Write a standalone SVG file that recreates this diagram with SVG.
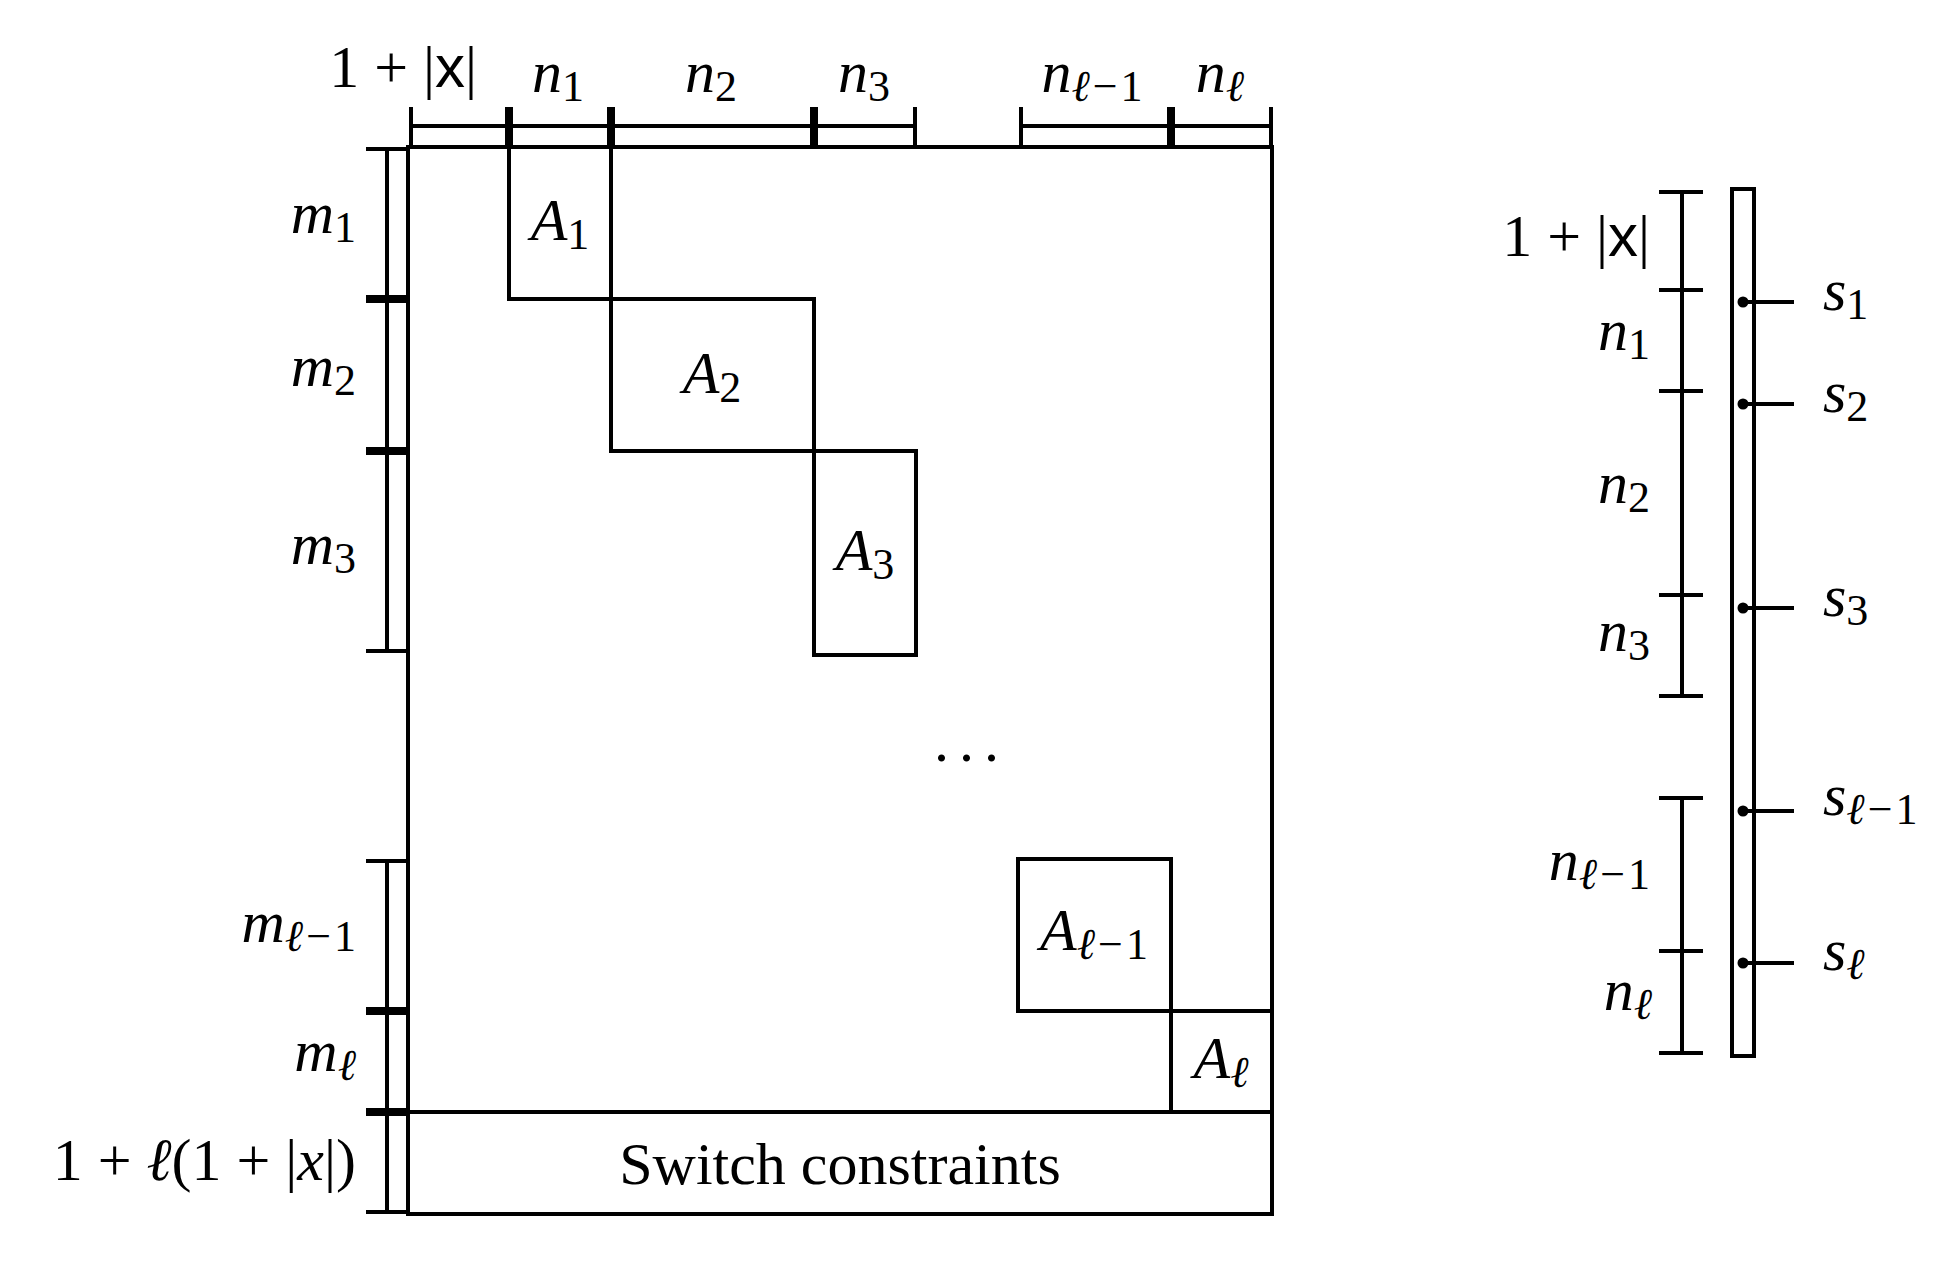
<svg xmlns="http://www.w3.org/2000/svg" width="1952" height="1266" viewBox="0 0 1952 1266">
<style>
.ln{stroke:#000;stroke-width:4;fill:none;stroke-linecap:butt}
.t{font-family:"Liberation Serif","DejaVu Serif",serif;font-size:60px;fill:#000}
.i{font-style:italic}
.s{font-size:44px}
.sf{font-family:"Liberation Sans","DejaVu Sans",sans-serif}
</style>
<rect width="1952" height="1266" fill="#fff"/>

<g id="matrix">
  <rect class="ln" x="408" y="147" width="864" height="1067"/>
</g>
<g id="A1"><rect class="ln" x="509" y="147" width="102" height="152"/>
  <text class="t" x="560" y="240" text-anchor="middle"><tspan class="i">A</tspan><tspan class="s" dy="9">1</tspan></text></g>
<g id="A2"><rect class="ln" x="611" y="299" width="203" height="152"/>
  <text class="t" x="712" y="393" text-anchor="middle"><tspan class="i">A</tspan><tspan class="s" dy="9">2</tspan></text></g>
<g id="A3"><rect class="ln" x="814" y="451" width="102" height="204"/>
  <text class="t" x="865" y="570" text-anchor="middle"><tspan class="i">A</tspan><tspan class="s" dy="9">3</tspan></text></g>
<g id="Al1"><rect class="ln" x="1018" y="859" width="153" height="152"/>
  <text class="t" x="1094" y="950" text-anchor="middle"><tspan class="i">A</tspan><tspan class="s i" dy="9">ℓ</tspan><tspan class="s" dx="3">−</tspan><tspan class="s" dx="3">1</tspan></text></g>
<g id="Al"><rect class="ln" x="1171" y="1011" width="101" height="101"/>
  <text class="t" x="1221" y="1078" text-anchor="middle"><tspan class="i">A</tspan><tspan class="s i" dy="9">ℓ</tspan></text></g>
<g id="switch"><line class="ln" x1="408" y1="1112" x2="1272" y2="1112"/>
  <text class="t" x="840" y="1184" text-anchor="middle" font-size="64">Switch constraints</text></g>
<g id="ellipsis"><text class="t" x="934" y="761" font-size="60" letter-spacing="10">...</text></g>

<g id="top-brackets">
  <path class="ln" d="M411,126H507M411,107V146M507,107V146"/>
  <path class="ln" d="M511,126H609M511,107V146M609,107V146"/>
  <path class="ln" d="M613,126H812M613,107V146M812,107V146"/>
  <path class="ln" d="M816,126H915M816,107V146M915,107V146"/>
  <path class="ln" d="M1021,126H1169M1021,107V146M1169,107V146"/>
  <path class="ln" d="M1173,126H1271M1173,107V146M1271,107V146"/>
  <text class="t" x="477" y="87" text-anchor="end">1 + |<tspan class="sf">x</tspan>|</text>
  <text class="t" x="558" y="92" text-anchor="middle"><tspan class="i">n</tspan><tspan class="s" dy="9">1</tspan></text>
  <text class="t" x="711" y="92" text-anchor="middle"><tspan class="i">n</tspan><tspan class="s" dy="9">2</tspan></text>
  <text class="t" x="864" y="92" text-anchor="middle"><tspan class="i">n</tspan><tspan class="s" dy="9">3</tspan></text>
  <text class="t" x="1092" y="92" text-anchor="middle"><tspan class="i">n</tspan><tspan class="s i" dy="9">ℓ</tspan><tspan class="s" dx="3">−</tspan><tspan class="s" dx="3">1</tspan></text>
  <text class="t" x="1220" y="92" text-anchor="middle"><tspan class="i">n</tspan><tspan class="s i" dy="9">ℓ</tspan></text>
</g>

<g id="left-brackets">
  <path class="ln" d="M387,149V297M366,149H408M366,297H408"/>
  <path class="ln" d="M387,301V449M366,301H408M366,449H408"/>
  <path class="ln" d="M387,453V651M366,453H408M366,651H408"/>
  <path class="ln" d="M387,861V1009M366,861H408M366,1009H408"/>
  <path class="ln" d="M387,1013V1110M366,1013H408M366,1110H408"/>
  <path class="ln" d="M387,1114V1212M366,1114H408M366,1212H408"/>
  <text class="t" x="356" y="233" text-anchor="end"><tspan class="i">m</tspan><tspan class="s" dy="9">1</tspan></text>
  <text class="t" x="356" y="386" text-anchor="end"><tspan class="i">m</tspan><tspan class="s" dy="9">2</tspan></text>
  <text class="t" x="356" y="564" text-anchor="end"><tspan class="i">m</tspan><tspan class="s" dy="9">3</tspan></text>
  <text class="t" x="356" y="942" text-anchor="end"><tspan class="i">m</tspan><tspan class="s i" dy="9">ℓ</tspan><tspan class="s" dx="3">−</tspan><tspan class="s" dx="3">1</tspan></text>
  <text class="t" x="356" y="1071" text-anchor="end"><tspan class="i">m</tspan><tspan class="s i" dy="9">ℓ</tspan></text>
  <text class="t" x="356" y="1180" text-anchor="end" font-size="61">1 + <tspan class="i">ℓ</tspan>(1 + |<tspan class="i">x</tspan>|)</text>
</g>

<g id="right-brackets">
  <path class="ln" d="M1682,192V696M1682,798V1053"/>
  <path class="ln" d="M1659,192H1703M1659,290H1703M1659,391H1703M1659,595H1703M1659,696H1703M1659,798H1703M1659,951H1703M1659,1053H1703"/>
  <text class="t" x="1650" y="256" text-anchor="end">1 + |<tspan class="sf">x</tspan>|</text>
  <text class="t" x="1650" y="350" text-anchor="end"><tspan class="i">n</tspan><tspan class="s" dy="9">1</tspan></text>
  <text class="t" x="1650" y="503" text-anchor="end"><tspan class="i">n</tspan><tspan class="s" dy="9">2</tspan></text>
  <text class="t" x="1650" y="651" text-anchor="end"><tspan class="i">n</tspan><tspan class="s" dy="9">3</tspan></text>
  <text class="t" x="1650" y="880" text-anchor="end"><tspan class="i">n</tspan><tspan class="s i" dy="9">ℓ</tspan><tspan class="s" dx="3">−</tspan><tspan class="s" dx="3">1</tspan></text>
  <text class="t" x="1652" y="1010" text-anchor="end"><tspan class="i">n</tspan><tspan class="s i" dy="9">ℓ</tspan></text>
</g>

<g id="switch-vector">
  <rect class="ln" x="1732" y="189" width="22" height="867"/>
</g>

<g id="connectors">
  <g fill="#000">
    <circle cx="1743" cy="302" r="5.5"/>
    <circle cx="1743" cy="404" r="5.5"/>
    <circle cx="1743" cy="608" r="5.5"/>
    <circle cx="1743" cy="811" r="5.5"/>
    <circle cx="1743" cy="963" r="5.5"/>
  </g>
  <path class="ln" d="M1743,302H1794M1743,404H1794M1743,608H1794M1743,811H1794M1743,963H1794"/>
</g>

<g id="s-labels">
  <text class="t" x="1823" y="310"><tspan class="i">s</tspan><tspan class="s" dy="9">1</tspan></text>
  <text class="t" x="1823" y="412"><tspan class="i">s</tspan><tspan class="s" dy="9">2</tspan></text>
  <text class="t" x="1823" y="616"><tspan class="i">s</tspan><tspan class="s" dy="9">3</tspan></text>
  <text class="t" x="1823" y="815"><tspan class="i">s</tspan><tspan class="s i" dy="9">ℓ</tspan><tspan class="s" dx="3">−</tspan><tspan class="s" dx="3">1</tspan></text>
  <text class="t" x="1823" y="970"><tspan class="i">s</tspan><tspan class="s i" dy="9">ℓ</tspan></text>
</g>
</svg>
